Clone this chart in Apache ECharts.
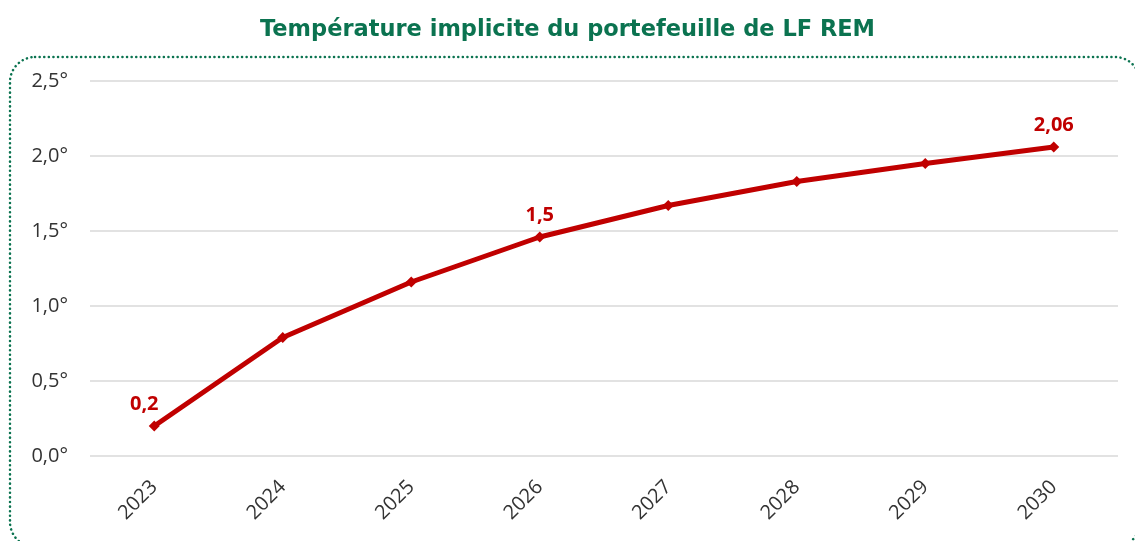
<!DOCTYPE html>
<html>
<head>
<meta charset="utf-8">
<script src="https://cdn.jsdelivr.net/npm/echarts@6/dist/echarts.min.js"></script>
<style>
  html, body { margin: 0; padding: 0; background: #fff; }
  #main { width: 1135px; height: 541px; }
</style>
</head>
<body>
<div id="main"></div>
<script>
var years = ['2023', '2024', '2025', '2026', '2027', '2028', '2029', '2030'];
var temperature = [0.2, 0.79, 1.16, 1.46, 1.67, 1.83, 1.95, 2.06];
// only a few points carry a label in the original
var pointLabels = ['0,2', '', '', '1,5', '', '', '', '2,06'];
var yTicks = [0, 0.5, 1, 1.5, 2, 2.5];

var myChart = echarts.init(document.getElementById('main'));

var green = '#0b7350';
var red = '#c00000';

var seriesData = [];
for (var i = 0; i < temperature.length; i++) {
    var item = { value: temperature[i] };
    if (pointLabels[i]) {
        item.label = { show: true, formatter: pointLabels[i] };
        if (i === 0) item.label.offset = [-10, 0];
    }
    seriesData.push(item);
}

var option = {
    backgroundColor: '#fff',
    title: {
        text: 'Température implicite du portefeuille de LF REM',
        left: 'center',
        top: 14,
        textStyle: {
            color: green,
            fontFamily: 'DejaVu Sans',
            fontWeight: 'bold',
            fontSize: 22.5
        }
    },
    graphic: [{
        type: 'rect',
        shape: { x: 10, y: 57, width: 1130, height: 490, r: 25 },
        style: {
            fill: 'none',
            stroke: green,
            lineWidth: 2.5,
            lineCap: 'round',
            lineDash: [0.1, 4.5]
        },
        silent: true
    }],
    grid: {
        left: 90,
        right: 17,
        top: 81,
        bottom: 85,
        containLabel: false
    },
    xAxis: {
        type: 'category',
        data: years,
        boundaryGap: true,
        axisLine: { show: false },
        axisTick: { show: false },
        axisLabel: {
            rotate: 45,
            margin: 28,
            color: '#333',
            fontFamily: 'Open Sans',
            fontSize: 20
        }
    },
    yAxis: {
        type: 'value',
        min: yTicks[0],
        max: yTicks[yTicks.length - 1],
        interval: 0.5,
        axisLine: { show: false },
        axisTick: { show: false },
        axisLabel: {
            margin: 22,
            color: '#333',
            fontFamily: 'Open Sans',
            fontSize: 20,
            formatter: function (v) {
                return v.toFixed(1).replace('.', ',') + '°';
            }
        },
        splitLine: { lineStyle: { color: '#d9d9d9', width: 1.5 } }
    },
    series: [{
        type: 'line',
        data: seriesData,
        symbol: 'diamond',
        symbolSize: 11,
        lineStyle: { color: red, width: 5 },
        itemStyle: { color: red },
        label: {
            show: false,
            position: 'top',
            distance: 6,
            color: red,
            fontFamily: 'Open Sans',
            fontWeight: 'bold',
            fontSize: 20
        },
        animation: false
    }]
};

myChart.setOption(option);
</script>
</body>
</html>
